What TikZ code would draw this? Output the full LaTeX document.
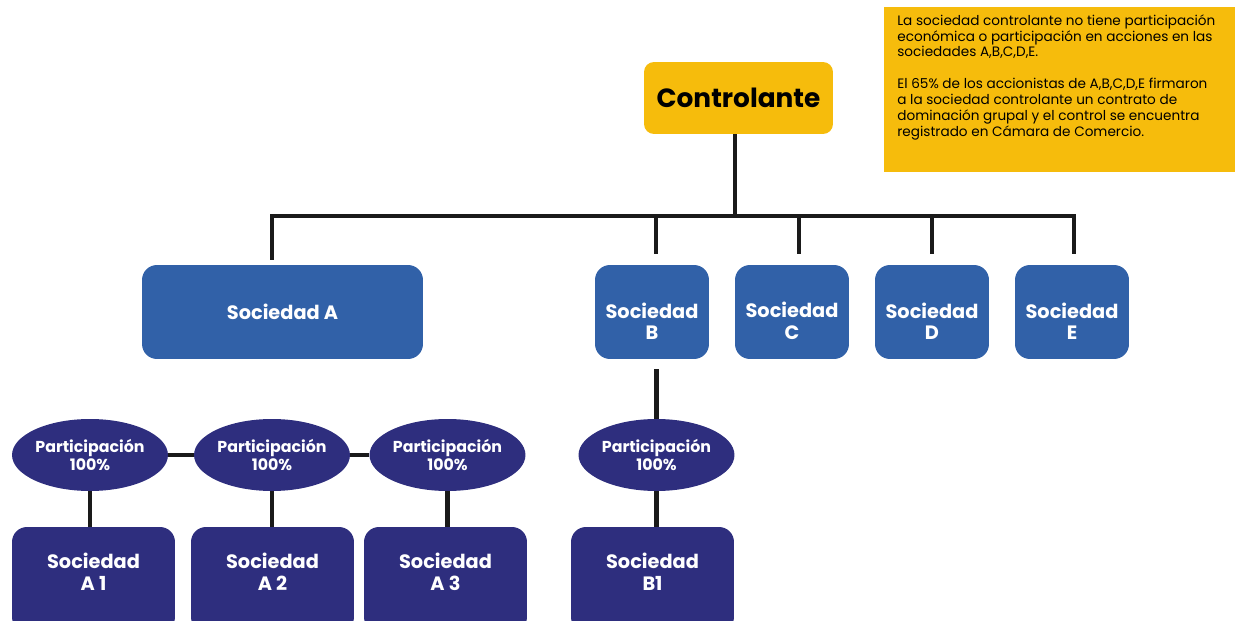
\documentclass[tikz,border=0pt]{standalone}
\usepackage{fontspec}
\setmainfont{Poppins}
\usetikzlibrary{shapes.geometric}
\definecolor{amarillo}{HTML}{F6BC0C}
\definecolor{azul}{HTML}{3161A8}
\definecolor{morado}{HTML}{2E2E7E}
\definecolor{linea}{HTML}{1A1A1A}
\begin{document}
\begin{tikzpicture}[x=0.02cm,y=-0.02cm,
    conn/.style={draw=linea,line width=2.8pt},
    ctrlbox/.style={fill=amarillo,rounded corners=5.7pt,minimum width=3.78cm,minimum height=1.44cm,inner sep=0pt,font=\fontsize{15}{18}\selectfont\bfseries},
    soc/.style={fill=azul,rounded corners=8.5pt,minimum height=1.88cm,inner sep=0pt,text=white,align=center,font=\fontsize{11}{12.5}\selectfont\bfseries},
    part/.style={ellipse,fill=morado,minimum width=3.12cm,minimum height=1.44cm,inner sep=0pt,text=white,align=center,font=\fontsize{9}{10.2}\selectfont\bfseries},
    sub/.style={fill=morado,rounded corners=8.5pt,minimum width=3.26cm,minimum height=2.1cm,inner sep=0pt,text=white,align=center,text depth=0.3cm,font=\fontsize{11}{12.5}\selectfont\bfseries}]
    \clip (0,0) rectangle (1235,621);
    
    % Note box
    \node[fill=amarillo,minimum width=7.02cm,minimum height=3.3cm,inner sep=0pt] (nota) at (1059.5,89.5) {};%
    \node[anchor=north west,inner sep=0pt,align=left,font=\fontsize{7.75}{9.07}\selectfont] (notatxt) at (897,14)
        {La sociedad controlante no tiene participación\\económica o participación en acciones en las\\sociedades A,B,C,D,E.\\[9.07pt]El 65\% de los accionistas de A,B,C,D,E firmaron\\a la sociedad controlante un contrato de\\dominación grupal y el control se encuentra\\registrado en Cámara de Comercio.};%
    
    % Controlante
    \node[ctrlbox] (ctrl) at (738.5,98) {Controlante};%
    
    % Sociedades A to E
    \node[soc,minimum width=5.62cm] (socA) at (282.5,312) {Sociedad A};%
    \node[soc,minimum width=2.28cm,text height=1.12cm] (socB) at (652,312) {Sociedad\\B};%
    \node[soc,minimum width=2.28cm,text height=1.12cm] (socC) at (792,312) {Sociedad\\C};%
    \node[soc,minimum width=2.28cm,text height=1.12cm] (socD) at (932,312) {Sociedad\\D};%
    \node[soc,minimum width=2.28cm,text height=1.12cm] (socE) at (1072,312) {Sociedad\\E};%
    
    % Participaciones
    \node[part] (partA1) at (90,455) {Participación\\100\%};%
    \node[part] (partA2) at (272,455) {Participación\\100\%};%
    \node[part] (partA3) at (447.5,455) {Participación\\100\%};%
    \node[part] (partB1) at (656.5,455) {Participación\\100\%};%
    
    % Subsidiarias
    \node[sub] (socA1) at (93.5,579.5) {Sociedad\\A 1};%
    \node[sub] (socA2) at (272.5,579.5) {Sociedad\\A 2};%
    \node[sub] (socA3) at (445.5,579.5) {Sociedad\\A 3};%
    \node[sub] (socB1) at (652.5,579.5) {Sociedad\\B1};%
    
    % Drawing the bus
    \coordinate (bus) at (735,216);
    \draw[conn] (ctrl.south -| bus) -- (bus);%
    \draw[conn,shorten >=0.1cm] (bus) -| ([xshift=-0.21cm]socA.north);%
    \draw[conn,shorten >=0.22cm] (bus) -| ([xshift=0.08cm]socB.north);%
    \draw[conn,shorten >=0.22cm] (bus) -| ([xshift=0.14cm]socC.north);%
    \draw[conn,shorten >=0.22cm] (bus) -| (socD.north);%
    \draw[conn,shorten >=0.22cm] (bus) -| ([xshift=0.04cm]socE.north);%
    
    % Drawing links to participaciones
    \draw[conn,shorten >=0.2cm] (partB1.north) -- (partB1.north |- socB.south);%
    \draw[conn] (partA1) -- (partA2);%
    \draw[conn] (partA2) -- (partA3);%
    \draw[conn] (partA1.south) -- (partA1.south |- socA1.north);%
    \draw[conn] (partA2.south) -- (partA2.south |- socA2.north);%
    \draw[conn] (partA3.south) -- (partA3.south |- socA3.north);%
    \draw[conn] (partB1.south) -- (partB1.south |- socB1.north);%
\end{tikzpicture}
\end{document}
